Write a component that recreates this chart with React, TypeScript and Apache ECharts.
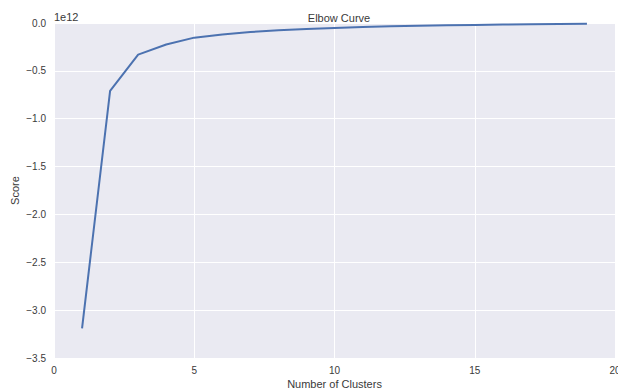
import React, { useEffect, useRef } from "react";
import * as echarts from "echarts";

const clusters = [1, 2, 3, 4, 5, 6, 7, 8, 9, 10, 11, 12, 13, 14, 15, 16, 17, 18, 19];
const scores = [-3.19, -0.71, -0.331, -0.225, -0.153, -0.12, -0.095, -0.075, -0.063, -0.052, -0.043, -0.035, -0.029, -0.024, -0.02, -0.016, -0.013, -0.011, -0.009];
const yTicks = [-3.5, -3.0, -2.5, -2.0, -1.5, -1.0, -0.5, 0.0];
const xTicks = [0, 5, 10, 15, 20];

const TEXT = "#3a3a3a";
const FONT = "'Liberation Sans', Arial, sans-serif";

export default function App() {
  const ref = useRef<HTMLDivElement>(null);
  useEffect(() => {
    const chart = echarts.init(ref.current!, null, { renderer: "svg" });
    chart.setOption({
      animation: false,
      backgroundColor: "#ffffff",
      title: {
        text: "Elbow Curve",
        left: 334,
        top: 7,
        textAlign: "center",
        textStyle: { fontSize: 11, fontWeight: "normal", color: TEXT, fontFamily: FONT },
      },
      graphic: [
        {
          type: "text",
          left: 54,
          top: 11,
          style: { text: "1e12", fontSize: 11, fill: TEXT, fontFamily: FONT },
        },
      ],
      grid: {
        left: 54,
        top: 23,
        width: 561,
        height: 335,
        backgroundColor: "#EAEAF2",
        show: true,
        borderWidth: 0,
        containLabel: false,
        outerBoundsMode: "none",
      },
      xAxis: {
        type: "value",
        min: xTicks[0],
        max: xTicks[xTicks.length - 1],
        interval: 5,
        name: "Number of Clusters",
        nameLocation: "middle",
        nameGap: 26,
        nameMoveOverlap: false,
        nameTextStyle: { fontSize: 11, color: TEXT, fontFamily: FONT, verticalAlign: "middle" },
        axisLine: { show: false },
        axisTick: { show: false },
        axisLabel: { fontSize: 10, color: TEXT, fontFamily: FONT, margin: 7 },
        splitLine: { show: true, lineStyle: { color: "#ffffff", width: 1 } },
      },
      yAxis: {
        type: "value",
        min: yTicks[0],
        max: yTicks[yTicks.length - 1],
        interval: 0.5,
        name: "Score",
        nameLocation: "middle",
        nameGap: 39,
        nameMoveOverlap: false,
        nameTextStyle: { fontSize: 11, color: TEXT, fontFamily: FONT, verticalAlign: "middle" },
        axisLine: { show: false },
        axisTick: { show: false },
        axisLabel: {
          fontSize: 10,
          color: TEXT,
          fontFamily: FONT,
          margin: 8,
          formatter: (v: number) => (v < 0 ? "\u2212" + Math.abs(v).toFixed(1) : v.toFixed(1)),
        },
        splitLine: { show: true, lineStyle: { color: "#ffffff", width: 1 } },
      },
      series: [
        {
          type: "line",
          data: clusters.map((c, i) => [c, scores[i]]),
          showSymbol: false,
          lineStyle: { color: "#4C72B0", width: 2 },
          itemStyle: { color: "#4C72B0" },
        },
      ],
    });
    return () => chart.dispose();
  }, []);
  return <div ref={ref} style={{ position: "fixed", left: 0, top: 0, width: 618, height: 390 }} />;
}
